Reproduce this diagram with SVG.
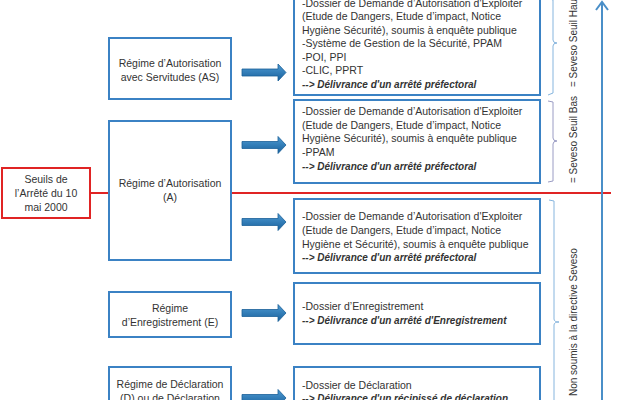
<svg xmlns="http://www.w3.org/2000/svg" width="640" height="400" viewBox="0 0 640 400">
<defs>
<linearGradient id="ag" x1="0" y1="0" x2="0" y2="1">
<stop offset="0" stop-color="#4f9bd3"/>
<stop offset="1" stop-color="#17609c"/>
</linearGradient>
<g id="arrow"><path d="M242,-3.5 L278,-3.5 L278,-8.5 L286,0 L278,8.5 L278,3.5 L242,3.5 Z" fill="url(#ag)" stroke="#1a5f98" stroke-width="0.8"/></g>
</defs>
<style>
text{font-family:"Liberation Sans",Arial,sans-serif;font-size:10.5px;fill:#333}
.c{text-anchor:middle}
.bi{font-weight:bold;font-style:italic;font-size:10px}
.v{font-size:10px}
.box{fill:#fff;stroke:#3b82c4;stroke-width:2}
.red{fill:#fff;stroke:#e02424;stroke-width:2}
.br1{fill:none;stroke:#86b5de;stroke-width:1}
.br2{fill:none;stroke:#9a9cc4;stroke-width:1}
</style>
<rect width="640" height="400" fill="#fff"/>
<g id="connectors">
<line x1="90" y1="193" x2="611" y2="193" stroke="#e02424" stroke-width="2"/>
<use href="#arrow" y="72.5"/>
<use href="#arrow" y="145"/>
<use href="#arrow" y="222"/>
<use href="#arrow" y="313"/>
<use href="#arrow" y="398"/>
<line x1="602" y1="400" x2="602" y2="3" stroke="#4a8fc8" stroke-width="2"/>
<polyline points="596,10 602,2 608,10" fill="none" stroke="#4a8fc8" stroke-width="2"/>
<path class="br1" d="M548,-2 L553,0 L553,40 Q553,43 557,43 Q553,43 553,46 L553,93 L548,95"/>
<path class="br2" d="M548,101 L553,102 L553,138 Q553,141 557,141 Q553,141 553,144 L553,181 L548,182"/>
<path class="br1" d="M549,200 L554,201 L554,319 Q554,322 559,322 Q554,322 554,325 L554,440"/>
</g>
<g id="seuils">
<rect class="red" x="2" y="168" width="88" height="50"/>
<text class="c" x="46" y="182.5">Seuils de</text>
<text class="c" x="46" y="196.5">l’Arrêté du 10</text>
<text class="c" x="46" y="210.5">mai 2000</text>
</g>
<g id="regime-as">
<rect class="box" x="109" y="38" width="122" height="61"/>
<text class="c" x="170" y="66.5">Régime d’Autorisation</text>
<text class="c" x="170" y="80.5">avec Servitudes (AS)</text>
</g>
<g id="regime-a">
<rect class="box" x="109" y="121" width="122" height="139"/>
<text class="c" x="170" y="187">Régime d’Autorisation</text>
<text class="c" x="170" y="201">(A)</text>
</g>
<g id="regime-e">
<rect class="box" x="109" y="292" width="122" height="45"/>
<text class="c" x="170" y="311.5">Régime</text>
<text class="c" x="170" y="325.5">d’Enregistrement (E)</text>
</g>
<g id="regime-d">
<rect class="box" x="109" y="367" width="122" height="50"/>
<text class="c" x="170" y="388">Régime de Déclaration</text>
<text class="c" x="170" y="402">(D) ou de Déclaration</text>
</g>
<g id="detail-as">
<rect class="box" x="294" y="-6" width="246" height="101"/>
<text x="302" y="6.5">-Dossier de Demande d’Autorisation d'Exploiter</text>
<text x="302" y="20">(Etude de Dangers, Etude d’impact, Notice</text>
<text x="302" y="33.5">Hygiène Sécurité), soumis à enquête publique</text>
<text x="302" y="47">-Système de Gestion de la Sécurité, PPAM</text>
<text x="302" y="60.5">-POI, PPI</text>
<text x="302" y="74">-CLIC, PPRT</text>
<text x="302" y="87.5" class="bi">--&gt; Délivrance d'un arrêté préfectoral</text>
</g>
<g id="detail-a-haut">
<rect class="box" x="294" y="100" width="246" height="83"/>
<text x="302" y="115">-Dossier de Demande d’Autorisation d'Exploiter</text>
<text x="302" y="128.5">(Etude de Dangers, Etude d’impact, Notice</text>
<text x="302" y="142">Hygiène Sécurité), soumis à enquête publique</text>
<text x="302" y="155.5">-PPAM</text>
<text x="302" y="169.5" class="bi">--&gt; Délivrance d'un arrêté préfectoral</text>
</g>
<g id="detail-a">
<rect class="box" x="294" y="199" width="246" height="74"/>
<text x="302" y="220">-Dossier de Demande d’Autorisation d'Exploiter</text>
<text x="302" y="234">(Etude de Dangers, Etude d’impact, Notice</text>
<text x="302" y="247.5">Hygiène et Sécurité), soumis à enquête publique</text>
<text x="302" y="261" class="bi">--&gt; Délivrance d'un arrêté préfectoral</text>
</g>
<g id="detail-e">
<rect class="box" x="294" y="283" width="246" height="61"/>
<text x="302" y="310">-Dossier d’Enregistrement</text>
<text x="302" y="323.5" class="bi">--&gt; Délivrance d'un arrêté d'Enregistrement</text>
</g>
<g id="detail-d">
<rect class="box" x="294" y="367" width="246" height="50"/>
<text x="302" y="388.5">-Dossier de Déclaration</text>
<text x="302" y="402" class="bi">--&gt; Délivrance d'un récipissé de déclaration</text>
</g>
<g id="labels">
<text class="v" transform="translate(577,87) rotate(-90)">= Seveso Seuil Haut</text>
<text class="v" transform="translate(577,183) rotate(-90)">= Seveso Seuil Bas</text>
<text class="v" transform="translate(577,396) rotate(-90)">Non soumis à la directive Seveso</text>
</g>
</svg>
